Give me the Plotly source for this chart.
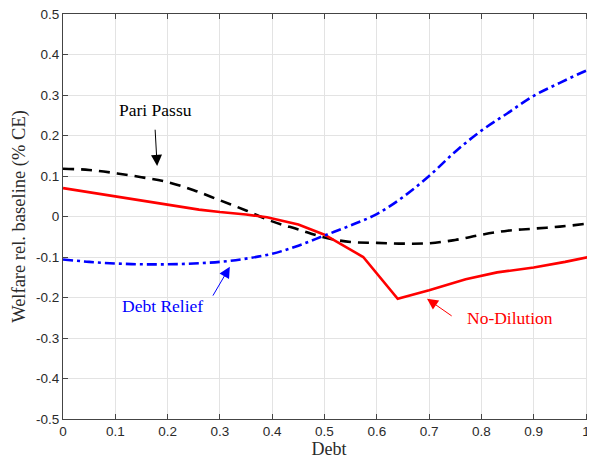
import plotly.graph_objects as go

# Pari Passu (black dashed)
pp_x = [0.0, 0.05, 0.1, 0.15, 0.2, 0.25, 0.3, 0.35, 0.4, 0.45, 0.5, 0.55, 0.6, 0.65, 0.7, 0.75, 0.8, 0.85, 0.9, 0.95, 1.0, 1.02]
pp_y = [0.118, 0.115, 0.107, 0.097, 0.085, 0.065, 0.04, 0.015, -0.012, -0.032, -0.052, -0.063, -0.065, -0.067, -0.066, -0.058, -0.045, -0.035, -0.03, -0.025, -0.018, -0.014]

# No-Dilution (red solid)
nd_x = [0.0, 0.1, 0.2, 0.26, 0.3, 0.35, 0.39, 0.45, 0.5, 0.574, 0.64, 0.7, 0.77, 0.83, 0.9, 0.96, 1.02]
nd_y = [0.07, 0.05, 0.03, 0.017, 0.011, 0.005, -0.002, -0.02, -0.045, -0.1, -0.203, -0.182, -0.155, -0.138, -0.126, -0.112, -0.096]

# Debt Relief (blue dash-dot)
dr_x = [0.0, 0.05, 0.1, 0.15, 0.2, 0.25, 0.3, 0.35, 0.4, 0.45, 0.5, 0.55, 0.6, 0.65, 0.7, 0.75, 0.8, 0.85, 0.9, 0.95, 1.0, 1.02]
dr_y = [-0.106, -0.112, -0.116, -0.118, -0.118, -0.116, -0.112, -0.104, -0.092, -0.072, -0.047, -0.022, 0.006, 0.048, 0.1, 0.16, 0.212, 0.255, 0.298, 0.33, 0.36, 0.37]

xticks = [0, 0.1, 0.2, 0.3, 0.4, 0.5, 0.6, 0.7, 0.8, 0.9, 1]
yticks = [-0.5, -0.4, -0.3, -0.2, -0.1, 0, 0.1, 0.2, 0.3, 0.4, 0.5]

fig = go.Figure()
fig.add_trace(go.Scatter(x=pp_x, y=pp_y, mode="lines", line=dict(color="black", width=2.6, dash="11px,7px"), line_shape="spline"))
fig.add_trace(go.Scatter(x=nd_x, y=nd_y, mode="lines", line=dict(color="#ff0000", width=2.6)))
fig.add_trace(go.Scatter(x=dr_x, y=dr_y, mode="lines", line=dict(color="#0000ff", width=2.6, dash="10px,4px,3px,4px"), line_shape="spline"))

serif = "Liberation Serif, DejaVu Serif, serif"
sans = "Liberation Sans, Arial, sans-serif"

annots = [
    dict(text="Pari Passu", x=0.176, y=0.263, color="black",
         ax=0.176, ay=0.218, hx=0.18, hy=0.125),
    dict(text="Debt Relief", x=0.19, y=-0.222, color="#0000ff",
         ax=0.285, ay=-0.199, hx=0.319, hy=-0.124),
    dict(text="No-Dilution", x=0.855, y=-0.25, color="#ff0000",
         ax=0.746, ay=-0.248, hx=0.696, hy=-0.203),
]
for a in annots:
    fig.add_annotation(x=a["x"], y=a["y"], text=a["text"], showarrow=False,
                       font=dict(family=serif, size=17.5, color=a["color"]))
    fig.add_annotation(x=a["hx"], y=a["hy"], ax=a["ax"], ay=a["ay"], axref="x", ayref="y",
                       text="", showarrow=True, arrowhead=2, arrowsize=2.2, arrowwidth=1,
                       arrowcolor=a["color"])

axis_common = dict(showgrid=True, gridcolor="#e3e3e3", gridwidth=1, zeroline=False,
                   showline=True, linecolor="#444", linewidth=1, mirror="ticks",
                   ticks="inside", ticklen=5, tickcolor="#444", automargin=False,
                   ticklabeloverflow="allow",
                   tickfont=dict(family=sans, size=13.5, color="#2a2a2a"))

fig.update_xaxes(range=[0, 1.0172], tickvals=xticks, ticktext=[str(v) for v in xticks],
                 title=dict(text="Debt", font=dict(family=serif, size=18, color="#2a2a2a"), standoff=1),
                 **axis_common)
fig.update_yaxes(range=[-0.5, 0.5], tickvals=yticks, ticktext=[str(v) for v in yticks],
                 title=dict(text="Welfare rel. baseline (% CE)", font=dict(family=serif, size=18.5, color="#2a2a2a"), standoff=5),
                 **axis_common)

# page body has an 8px default margin; size the figure so the plot lands where the reference has it
fig.update_layout(width=587, height=453, showlegend=False,
                  margin=dict(l=55, r=0, t=6, b=42),
                  plot_bgcolor="white", paper_bgcolor="white")

fig.write_html("out.html")
